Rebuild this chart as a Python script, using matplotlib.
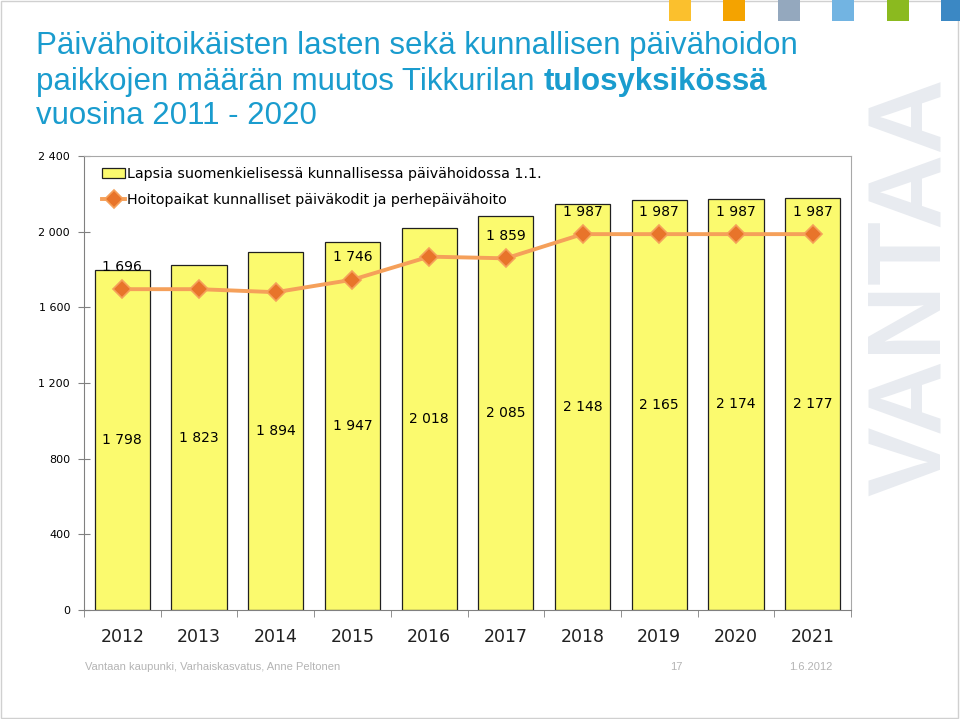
import numpy as np
import matplotlib.pyplot as plt
from matplotlib.patches import Rectangle

# data
years = ['2012', '2013', '2014', '2015', '2016', '2017', '2018', '2019', '2020', '2021']
lapsia = [1798, 1823, 1894, 1947, 2018, 2085, 2148, 2165, 2174, 2177]
hoitopaikat = [1696, 1696, 1680, 1746, 1868, 1859, 1987, 1987, 1987, 1987]
# labels shown on the line (the rest are hidden in the original)
line_labels = ['1 696', '', '', '1 746', '', '1 859', '1 987', '1 987', '1 987', '1 987']
yticks = [0, 400, 800, 1200, 1600, 2000, 2400]

def fmt(v):
    return f'{v:,}'.replace(',', ' ')

fig = plt.figure(figsize=(9.6, 7.19), dpi=100)
fig.patch.set_facecolor('white')

# slide border
fig.add_artist(Rectangle((0.001, 0.002), 0.997, 0.996, transform=fig.transFigure,
                         fill=False, edgecolor='#d0d0d0', linewidth=1))

# colored squares at top right
sq_x = [669, 723, 778, 832, 887, 941]
sq_c = ['#fbc02d', '#f4a300', '#94a8be', '#72b4e2', '#8bba1f', '#3b88c4']
for x, c in zip(sq_x, sq_c):
    fig.add_artist(Rectangle((x / 960, 1 - 21 / 719), 22 / 960, 21 / 719,
                             transform=fig.transFigure, color=c, linewidth=0))

# VANTAA watermark
fig.text(913 / 960, 1 - 287 / 719, 'VANTAA', rotation=90, ha='center', va='center',
         fontsize=75, fontweight='bold', color='#e8ebf0', family='Liberation Sans')

# title
tc = '#1a9cce'
tf = 'Liberation Sans'
ts = 22.5
fig.text(36 / 960, 1 - 46 / 719, 'Päivähoitoikäisten lasten sekä kunnallisen päivähoidon',
         fontsize=ts, color=tc, family=tf, va='center')
t1 = fig.text(36 / 960, 1 - 82 / 719, 'paikkojen määrän muutos Tikkurilan ',
              fontsize=ts, color=tc, family=tf, va='center')
fig.canvas.draw()
bb = t1.get_window_extent()
fig.text(bb.x1 / 960, 1 - 82 / 719, 'tulosyksikössä', fontsize=ts, color=tc,
         family=tf, va='center', fontweight='bold')
fig.text(36 / 960, 1 - 116 / 719, 'vuosina 2011 - 2020',
         fontsize=ts, color=tc, family=tf, va='center')

# chart
ax = fig.add_axes([84 / 960, 1 - 610 / 719, 767 / 960, 454 / 719])
x = np.arange(len(years))
ax.bar(x, lapsia, width=0.72, color='#fbfa6e', edgecolor='#202020', linewidth=0.9,
       zorder=2, label='Lapsia suomenkielisessä kunnallisessa päivähoidossa 1.1.')
ax.plot(x, hoitopaikat, color='#f5a05a', linewidth=2.8, zorder=3,
        marker='D', markersize=9, markerfacecolor='#e8742a', markeredgecolor='#f5a05a',
        markeredgewidth=1.2, label='Hoitopaikat kunnalliset päiväkodit ja perhepäivähoito')

lf = 'DejaVu Sans'
for xi, v in zip(x, lapsia):
    ax.text(xi, v / 2, fmt(v), ha='center', va='center', fontsize=10, family=lf,
            color='black', zorder=4)
for xi, v, lab in zip(x, hoitopaikat, line_labels):
    if lab:
        ax.annotate(lab, (xi, v), xytext=(0, 16), textcoords='offset points',
                    ha='center', va='center', fontsize=10, family=lf, color='black', zorder=4)

ax.set_xlim(-0.5, len(years) - 0.5)
ax.set_ylim(0, 2400)
ax.set_yticks(yticks)
ax.set_yticklabels([fmt(v) for v in yticks], fontsize=8, family=lf)
ax.set_xticks(x)
ax.set_xticklabels(years, fontsize=12.5, family=lf, color='#202020')
ax.set_xticks(np.arange(len(years) + 1) - 0.5, minor=True)
ax.tick_params(axis='x', which='major', length=0, pad=13)
ax.tick_params(axis='x', which='minor', length=5, direction='out', color='#808080')
ax.tick_params(axis='y', length=8, direction='inout', color='#808080', pad=6)

for s in ['top', 'right']:
    ax.spines[s].set_color('#a8a8a8')
for s in ['left', 'bottom']:
    ax.spines[s].set_color('#808080')

h, l = ax.get_legend_handles_labels()
order = [l.index(k) for k in sorted(l, key=lambda s: not s.startswith('Lapsia'))]
ax.legend([h[i] for i in order], [l[i] for i in order], loc='upper left',
          bbox_to_anchor=(0.01, 1.0), frameon=False,
          prop={'family': lf, 'size': 10.3}, handlelength=1.6, handletextpad=0.1,
          labelspacing=0.85, borderaxespad=0.35)

# footer
fc = '#b4b4b4'
fig.text(85 / 960, 1 - 667 / 719, 'Vantaan kaupunki, Varhaiskasvatus, Anne Peltonen',
         fontsize=8, color=fc, family=tf, va='center')
fig.text(676 / 960, 1 - 667 / 719, '17', fontsize=8, color=fc, family=tf, va='center', ha='center')
fig.text(811 / 960, 1 - 667 / 719, '1.6.2012', fontsize=8, color=fc, family=tf, va='center', ha='center')

plt.savefig('out.png', dpi=100)
